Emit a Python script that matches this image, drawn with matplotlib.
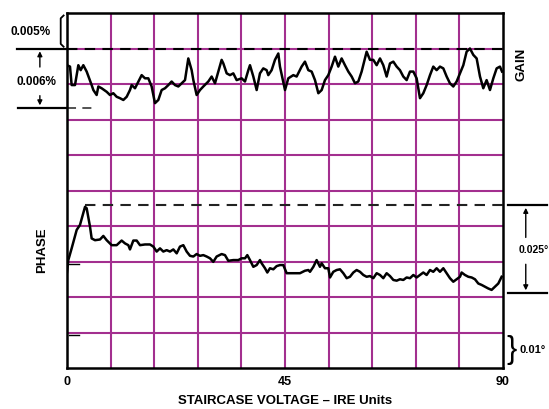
import numpy as np
import matplotlib
matplotlib.use("Agg")
import matplotlib.pyplot as plt

plt.rcParams['font.family'] = ['Liberation Sans', 'DejaVu Sans']

# ---- data (x in IRE units, y in grid divisions, 0..10) ----
gain_x = [0.0, 0.62, 0.96, 1.65, 2.34, 2.82, 3.37, 4.06, 5.09, 5.44, 6.12, 6.47, 7.15, 8.19, 8.87,
          9.56, 10.25, 10.94, 11.63, 12.32, 13.0, 13.35, 14.04, 15.41, 16.1, 16.79, 17.47, 18.16,
          18.85, 19.54, 20.23, 20.92, 21.6, 22.29, 22.98, 23.67, 24.36, 25.04, 25.73, 26.08, 26.76,
          27.45, 28.14, 29.17, 29.86, 30.55, 31.24, 31.92, 32.27, 32.96, 33.64, 34.33, 35.02, 36.05,
          36.74, 37.43, 37.77, 38.46, 39.15, 39.83, 40.52, 41.21, 41.55, 42.24, 42.93, 43.62, 43.96,
          45.0, 45.68, 46.72, 47.4, 48.43, 49.12, 49.81, 50.5, 51.19, 51.88, 52.57, 53.25, 53.94,
          54.63, 55.32, 56.0, 56.69, 57.38, 58.07, 58.76, 59.45, 60.13, 60.82, 61.51, 61.85, 62.54,
          63.23, 63.92, 64.61, 65.29, 65.98, 66.67, 67.36, 68.05, 68.73, 69.42, 70.11, 70.8, 71.49,
          72.17, 72.86, 73.55, 74.24, 74.93, 75.61, 76.3, 76.99, 77.68, 78.37, 79.05, 79.74, 80.43,
          81.12, 81.81, 82.49, 83.18, 83.87, 84.56, 85.25, 85.93, 86.62, 87.31, 88.0, 88.69, 89.37,
          89.8]
gain_y = [8.53, 8.49, 7.97, 7.97, 8.53, 8.39, 8.53, 8.35, 7.97, 7.83, 7.69, 7.93, 7.88, 7.78, 7.69,
          7.74, 7.64, 7.60, 7.55, 7.64, 7.83, 7.97, 7.88, 8.25, 8.16, 8.16, 7.93, 7.46,
          7.55, 7.83, 7.88, 7.97, 8.07, 7.97, 7.93, 8.02, 8.11, 8.72, 8.39, 8.11, 7.69,
          7.83, 7.93, 8.07, 8.21, 8.02, 8.35, 8.68, 8.58, 8.30, 8.25, 8.30, 8.11, 8.16,
          8.07, 8.39, 8.53, 8.21, 7.83, 8.30, 8.44, 8.39, 8.25, 8.39, 8.68, 8.86, 8.49,
          7.83, 8.16, 8.25, 8.21, 8.49, 8.63, 8.39, 8.35, 8.11, 7.74, 7.83, 8.11, 8.25,
          8.49, 8.77, 8.49, 8.72, 8.53, 8.35, 8.21, 8.02, 8.07, 8.35, 8.72, 8.91, 8.68,
          8.68, 8.53, 8.72, 8.53, 8.21, 8.58, 8.63, 8.49, 8.39, 8.21, 8.11, 8.35, 8.35,
          8.16, 7.60, 7.74, 7.97, 8.25, 8.49, 8.39, 8.49, 8.44, 8.21, 8.02, 7.93, 8.07,
          8.30, 8.53, 8.91, 9.00, 8.82, 8.72, 8.21, 7.88, 8.11, 7.83, 8.16, 8.44, 8.49,
          8.35]

phase_x = [0.0, 0.27, 0.96, 2.0, 2.68, 3.72, 4.06, 4.75, 5.09, 5.78, 6.81, 7.5, 8.19, 9.22, 10.25,
           11.28, 11.97, 12.66, 13.0, 13.69, 14.38, 15.07, 16.1, 17.13, 17.82, 18.51, 19.2, 19.88,
           20.57, 21.26, 21.95, 22.64, 23.32, 24.01, 24.7, 25.39, 26.08, 26.76, 27.45, 28.14, 28.83,
           29.52, 30.2, 30.89, 31.92, 32.61, 33.3, 34.33, 35.36, 36.05, 36.74, 37.22, 37.77, 38.46,
           39.15, 39.83, 40.18, 40.87, 41.35, 41.9, 42.59, 43.27, 43.96, 44.65, 45.34, 46.72, 48.09,
           49.12, 49.81, 50.16, 50.85, 51.53, 52.22, 52.57, 53.25, 53.94, 54.29, 54.97, 55.66, 56.35,
           57.04, 57.73, 58.41, 59.1, 59.79, 60.48, 61.17, 61.85, 62.54, 63.23, 63.92, 64.61, 65.29,
           65.98, 66.67, 67.36, 68.05, 68.73, 69.42, 70.11, 70.8, 71.49, 72.17, 72.86, 73.55, 74.24,
           74.93, 75.61, 76.3, 76.99, 77.68, 78.37, 79.05, 79.74, 80.43, 81.12, 81.46, 82.15, 82.84,
           83.53, 84.21, 84.9, 85.59, 86.28, 86.96, 87.65, 88.34, 89.03, 89.72]
phase_y = [2.70, 3.04, 3.37, 3.89, 4.03, 4.54, 4.50, 3.98, 3.65, 3.60, 3.62, 3.72, 3.60, 3.46, 3.46,
           3.59, 3.51, 3.46, 3.34, 3.59, 3.59, 3.46, 3.48, 3.48, 3.42, 3.28, 3.37, 3.28,
           3.32, 3.28, 3.34, 3.23, 3.42, 3.46, 3.28, 3.16, 3.14, 3.21, 3.16, 3.18, 3.14,
           3.09, 2.99, 3.14, 3.21, 3.18, 3.02, 3.04, 3.04, 3.09, 3.09, 3.18, 3.04, 2.85,
           2.90, 3.04, 2.95, 2.81, 2.69, 2.81, 2.78, 2.87, 2.90, 2.90, 2.67, 2.67, 2.67,
           2.74, 2.76, 2.71, 2.85, 3.04, 2.85, 2.95, 2.81, 2.81, 2.55, 2.71, 2.76, 2.78,
           2.67, 2.53, 2.57, 2.69, 2.76, 2.71, 2.62, 2.57, 2.59, 2.53, 2.67, 2.62, 2.53,
           2.67, 2.59, 2.48, 2.46, 2.50, 2.48, 2.55, 2.53, 2.62, 2.55, 2.62, 2.69, 2.62,
           2.76, 2.71, 2.81, 2.71, 2.81, 2.67, 2.53, 2.43, 2.50, 2.57, 2.69, 2.62, 2.57,
           2.55, 2.50, 2.38, 2.34, 2.29, 2.24, 2.20, 2.29, 2.38, 2.57]

gain_ref_hi = 9.0     # dashed upper gain reference
gain_ref_lo = 7.32    # dashed lower gain reference
phase_ref_hi = 4.59   # dashed phase peak reference
phase_ref_lo = 2.11   # lower phase reference
x_grid = list(range(9, 90, 9))
y_grid = list(range(1, 10))
x_ticks = [0, 45, 90]
x_tick_labels = ["0", "45", "90"]
xlabel = "STAIRCASE VOLTAGE \u2013 IRE Units"
gain_label_top = "0.005%"
gain_label_span = "0.006%"
phase_label_span = "0.025\u00b0"
phase_label_div = "0.01\u00b0"

# ---- figure ----
W, H = 549, 409
fig = plt.figure(figsize=(W / 100, H / 100), dpi=100)
L, R, T, B = 67, 503, 13, 368
ax = fig.add_axes([L / W, 1 - B / H, (R - L) / W, (B - T) / H])
ax.set_xlim(0, 90)
ax.set_ylim(0, 10)

grid_col = '#a32f8f'
for gx in x_grid:
    ax.axvline(gx, color=grid_col, lw=1.5, zorder=0)
for gy in y_grid:
    ax.axhline(gy, color=grid_col, lw=1.5, zorder=0)
ax.set_xticks(x_ticks)
ax.set_xticklabels(x_tick_labels, fontsize=9, fontweight='bold')
ax.set_yticks([])
ax.tick_params(axis='x', which='both', length=0, pad=6)
for s in ax.spines.values():
    s.set_linewidth(1.8)
    s.set_color('black')
    s.set_zorder(5)

ax.set_xlabel(xlabel, fontsize=9.5, fontweight='bold', labelpad=5)

# traces
ax.plot(gain_x, gain_y, color='black', lw=1.8, zorder=4, solid_joinstyle='round')
ax.plot(phase_x, phase_y, color='black', lw=1.8, zorder=4, solid_joinstyle='round')

dash = (0, (5, 3.5))
ax.plot([0, 90], [gain_ref_hi, gain_ref_hi], color='black', lw=1.5, ls=dash, zorder=3)
ax.plot([0, 5.8], [gain_ref_lo, gain_ref_lo], color='#444444', lw=1.3, ls=dash, zorder=3)
ax.plot([3.7, 90.8], [phase_ref_hi, phase_ref_hi], color='#222222', lw=1.5, ls=dash, zorder=3,
        clip_on=False)

# small left-edge marks
ax.plot([0.5, 2.5], [2.92, 2.92], color='black', lw=1.0, zorder=4)
ax.plot([0.5, 2.5], [0.94, 0.94], color='black', lw=1.0, zorder=4)

# ---- gain annotation (left) ----
ax.plot([-10.3, 0], [gain_ref_hi, gain_ref_hi], color='black', lw=1.6, clip_on=False)
ax.plot([-10.1, 0], [gain_ref_lo, gain_ref_lo], color='black', lw=1.6, clip_on=False)
ax.annotate('', xy=(-5.6, gain_ref_hi), xytext=(-5.6, 8.4), annotation_clip=False,
            arrowprops=dict(arrowstyle='-|>', color='black', lw=1.0, mutation_scale=7))
ax.annotate('', xy=(-5.6, gain_ref_lo), xytext=(-5.6, 7.75), annotation_clip=False,
            arrowprops=dict(arrowstyle='-|>', color='black', lw=1.0, mutation_scale=7))
ax.text(-6.3, 8.06, gain_label_span, fontsize=8.5, fontweight='bold', ha='center', va='center')
ax.text(-7.6, 9.46, gain_label_top, fontsize=8.5, fontweight='bold', ha='center', va='center')
ax.plot([-0.7, -1.3, -1.3, -0.7], [9.93, 9.85, 9.13, 9.05], color='black', lw=1.3,
        clip_on=False)
ax.text(93.9, 8.54, "GAIN", fontsize=9.5, fontweight='bold', rotation=90,
        ha='center', va='center')

# ---- phase annotation (right) ----
ax.text(-5.2, 3.32, "PHASE", fontsize=9.5, fontweight='bold', rotation=90,
        ha='center', va='center')
ax.plot([91.0, 99.1], [phase_ref_hi, phase_ref_hi], color='black', lw=1.6, clip_on=False)
ax.plot([91.0, 99.1], [phase_ref_lo, phase_ref_lo], color='black', lw=1.6, clip_on=False)
ax.annotate('', xy=(94.7, phase_ref_hi), xytext=(94.7, 3.6), annotation_clip=False,
            arrowprops=dict(arrowstyle='-|>', color='black', lw=1.0, mutation_scale=7))
ax.annotate('', xy=(94.7, phase_ref_lo), xytext=(94.7, 3.0), annotation_clip=False,
            arrowprops=dict(arrowstyle='-|>', color='black', lw=1.0, mutation_scale=7))
ax.text(96.4, 3.32, phase_label_span, fontsize=7.5, fontweight='bold', ha='center', va='center',
        bbox=dict(facecolor='white', edgecolor='none', pad=0.5))
ax.text(91.7, 0.5, "}", fontsize=22, ha='center', va='center', fontweight='light')
ax.text(93.4, 0.5, phase_label_div, fontsize=8, fontweight='bold', ha='left', va='center')

fig.savefig("out.png", dpi=100, facecolor='white')
